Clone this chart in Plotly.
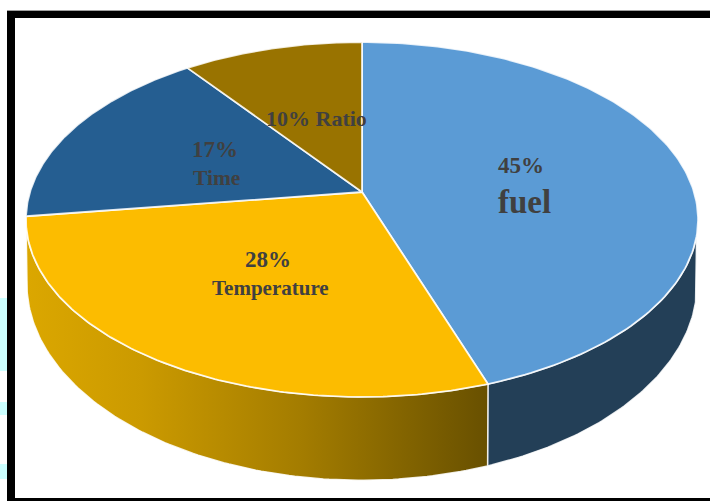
import numpy as np
import plotly.graph_objects as go

# Chart content
categories = ["fuel", "Temperature", "Time", "Ratio"]
shares = [45, 28, 17, 10]
top_colors = ["#5B9BD5", "#FCBC00", "#255E91", "#997300"]

# Perspective model of the tilted disc, in pixel-like axis units
CX, CY = 362.0, 192.0
A, B, K = 332.0, 173.2, 0.155
LOWER_CY, LOWER_A, LOWER_B = 253.0, 331.0, 192.0
LENS_WARP_DEG = 0.9


def project(theta_deg, cx=CX, cy=CY, a=A, b=B):
    """Map a clockwise-from-top angle on the disc to plot coordinates."""
    theta_deg = np.asarray(theta_deg, dtype=float)
    # Slight lens warp so the near edge of the disc sits a little to the right
    t = np.radians(theta_deg - LENS_WARP_DEG * np.sin(np.radians(theta_deg) / 2))
    u = np.sin(t)
    v = -np.cos(t)
    w = 1 - K * v
    return cx + a * u / w, cy + b * v / w


def lower(theta_deg):
    return project(theta_deg, cy=LOWER_CY, a=LOWER_A, b=LOWER_B)


edges = np.concatenate([[0], np.cumsum(shares)]) * 3.6

fig = go.Figure()

# Side wall under the fuel slice
t_fuel = np.linspace(105, edges[1], 80)
ux, uy = project(t_fuel)
lx, ly = lower(t_fuel)
fig.add_trace(go.Scatter(
    x=np.r_[ux, lx[::-1], ux[0]], y=np.r_[uy, ly[::-1], uy[0]],
    mode="lines", fill="toself", fillcolor="#233F57",
    line=dict(color="rgba(255,255,255,0.85)", width=1.4),
    hoverinfo="skip", showlegend=False,
))

# Side wall under the temperature slice, shaded from left to right
t_temp = np.linspace(edges[1], edges[2], 120)
ux, uy = project(t_temp)
lx, ly = lower(t_temp)
fig.add_trace(go.Scatter(
    x=np.r_[ux, lx[::-1], ux[0]], y=np.r_[uy, ly[::-1], uy[0]],
    mode="lines", fill="toself",
    fillgradient=dict(
        type="horizontal", start=26, stop=488,
        colorscale=[[0, "#DBA700"], [0.25, "#CB9A00"], [0.6, "#A37C00"], [1, "#685000"]],
    ),
    line=dict(color="rgba(255,255,255,0.85)", width=1.4),
    hoverinfo="skip", showlegend=False,
))

# Top face of the disc
for i, name in enumerate(categories):
    t = np.linspace(edges[i], edges[i + 1], 160)
    rx, ry = project(t)
    fig.add_trace(go.Scatter(
        x=np.r_[CX, rx, CX], y=np.r_[CY, ry, CY],
        mode="lines", fill="toself", fillcolor=top_colors[i],
        line=dict(color="rgba(255,255,255,0.85)", width=1.8),
        name=name, hoverinfo="skip", showlegend=False,
    ))

# Slice labels: text, centre position and font size
labels = [
    (f"{shares[0]}%", 521, 165, 23),
    (categories[0], 524, 202, 33),
    (f"{shares[1]}%", 268, 259, 23),
    (categories[1], 270, 288, 21),
    (f"{shares[2]}%", 215, 149, 23),
    (categories[2], 216, 178, 21.5),
    (f"{shares[3]}% {categories[3]}", 316, 118, 22),
]
annotations = [
    dict(x=x, y=y, xref="x", yref="y", text=f"<b>{text}</b>", showarrow=False,
         xanchor="center", yanchor="middle",
         font=dict(family="Liberation Serif", size=size, color="#404040"))
    for text, x, y, size in labels
]


def rect(x0, y0, x1, y1, color):
    return dict(type="rect", xref="x", yref="y", x0=x0, y0=y0, x1=x1, y1=y1,
                fillcolor=color, line=dict(width=0), layer="below")


shapes = [
    # Pale strips left of the frame
    rect(0, 298, 7, 371, "#CCFFFF"),
    rect(0, 402, 7, 415, "#CCFFFF"),
    rect(0, 464, 7, 479, "#CCFFFF"),
    # Heavy black frame, open on the right
    rect(7, 10, 710, 11, "#A0A0A0"),
    rect(7, 11, 710, 18, "#000000"),
    rect(7, 11, 15, 501, "#000000"),
    rect(7, 498, 710, 501, "#000000"),
]

fig.update_layout(
    width=710, height=501,
    margin=dict(l=0, r=0, t=0, b=0),
    paper_bgcolor="white", plot_bgcolor="white",
    xaxis=dict(range=[0, 710], visible=False, fixedrange=True),
    yaxis=dict(range=[501, 0], visible=False, fixedrange=True),
    annotations=annotations,
    shapes=shapes,
    showlegend=False,
)

fig.write_html("out.html", config=dict(displayModeBar=False))
